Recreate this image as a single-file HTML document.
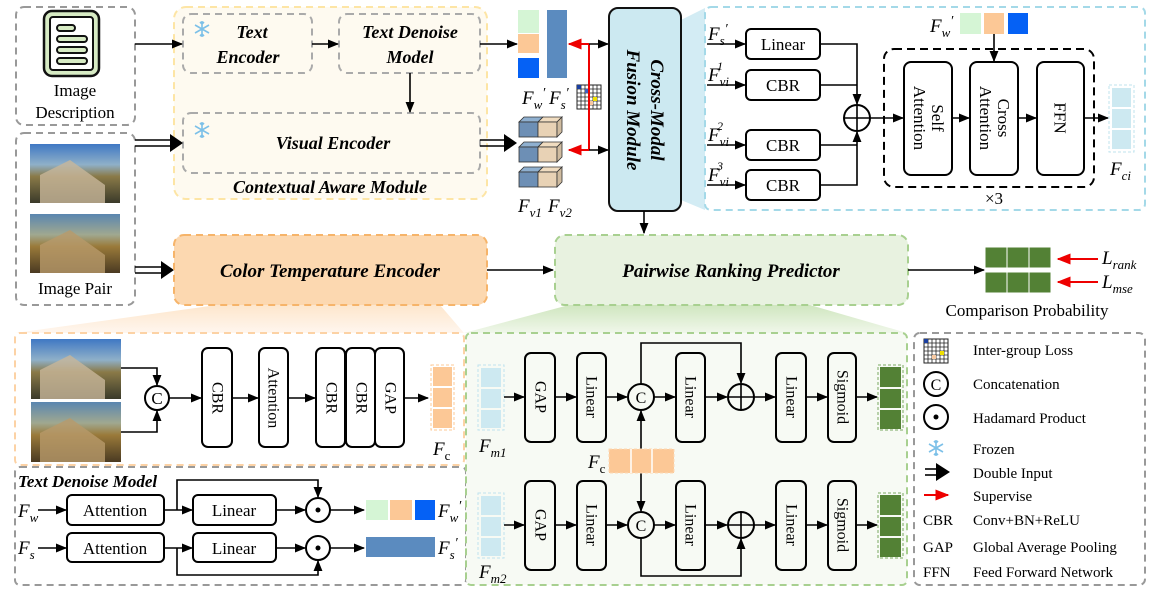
<!DOCTYPE html>
<html><head><meta charset="utf-8"><style>
html,body{margin:0;padding:0;background:#fff;}
svg{display:block;font-family:"Liberation Serif",serif;}
.bi{font-weight:bold;font-style:italic;}
.it{font-style:italic;}
</style></head><body>
<svg width="1151" height="595" viewBox="0 0 1151 595" xmlns="http://www.w3.org/2000/svg">
<defs>
<marker id="a" viewBox="0 0 10 10" refX="9" refY="5" markerWidth="7" markerHeight="7" orient="auto"><path d="M0,1 L10,5 L0,9 z" fill="#000"/></marker>
<marker id="r" viewBox="0 0 10 10" refX="9" refY="5" markerWidth="7" markerHeight="7" orient="auto"><path d="M0,1 L10,5 L0,9 z" fill="#e00"/></marker>
<linearGradient id="ph1" x1="0" y1="0" x2="0" y2="1"><stop offset="0" stop-color="#3f78c4"/><stop offset="0.35" stop-color="#8fb0c8"/><stop offset="0.55" stop-color="#8a7a48"/><stop offset="1" stop-color="#3a3a2a"/></linearGradient>
<linearGradient id="ph2" x1="0" y1="0" x2="0" y2="1"><stop offset="0" stop-color="#5a86b0"/><stop offset="0.35" stop-color="#a0a890"/><stop offset="0.55" stop-color="#9a7a3a"/><stop offset="1" stop-color="#4a3a22"/></linearGradient>
<linearGradient id="ow" x1="0" y1="0" x2="0" y2="1"><stop offset="0" stop-color="#fde6cc"/><stop offset="1" stop-color="#fff6ee"/></linearGradient>
<linearGradient id="gw" x1="0" y1="0" x2="0" y2="1"><stop offset="0" stop-color="#cfe6bf"/><stop offset="1" stop-color="#f0f7ea"/></linearGradient>
<g id="snow" stroke="#7cc0e8" stroke-width="1.6" fill="none"><path d="M0,-8 V8 M-7,-4 L7,4 M-7,4 L7,-4 M-2,-7 L0,-5 L2,-7 M-2,7 L0,5 L2,7"/></g>
</defs>

<!-- wedges -->
<polygon points="217,305 440,305 464,333 15,333" fill="url(#ow)"/>
<polygon points="569,305 810,305 907,333 464,333" fill="url(#gw)"/>
<polygon points="681,20 705,8 705,210 681,200" fill="#d3ecf4"/>

<!-- Image description -->
<rect x="16" y="7" width="119" height="118" rx="8" fill="none" stroke="#999" stroke-width="2" stroke-dasharray="7,5"/>
<rect x="44" y="11" width="55" height="65" rx="8" fill="#d7ebc4" stroke="#111" stroke-width="2.5"/>
<rect x="50" y="17" width="43" height="53" rx="3" fill="#fff" stroke="#111" stroke-width="2"/>
<g fill="#d7ebc4" stroke="#111" stroke-width="2"><rect x="57" y="25" width="18" height="6" rx="3"/><rect x="57" y="36" width="30" height="6" rx="3"/><rect x="57" y="47" width="30" height="6" rx="3"/><rect x="57" y="58" width="30" height="6" rx="3"/></g>
<text x="75" y="96" font-size="17" text-anchor="middle">Image</text>
<text x="75" y="118" font-size="17" text-anchor="middle">Description</text>

<!-- Image pair -->
<rect x="16" y="133" width="119" height="172" rx="8" fill="none" stroke="#999" stroke-width="2" stroke-dasharray="7,5"/>
<rect x="30" y="144" width="90" height="59" fill="url(#ph1)"/>
<polygon points="40,175 70,160 105,185 105,203 40,203" fill="#c8b79a" opacity="0.8"/>
<rect x="30" y="214" width="90" height="59" fill="url(#ph2)"/>
<polygon points="40,245 70,230 105,255 105,273 40,273" fill="#b89a6a" opacity="0.8"/>
<text x="75" y="294" font-size="17" text-anchor="middle">Image Pair</text>

<!-- Contextual aware -->
<rect x="174" y="7" width="313" height="192" rx="12" fill="#fefaf0" stroke="#fde5a5" stroke-width="2" stroke-dasharray="7,5"/>
<rect x="183" y="14" width="129" height="59" rx="8" fill="none" stroke="#aaa" stroke-width="2" stroke-dasharray="7,5"/>
<use href="#snow" x="202" y="29"/>
<text x="252" y="38" font-size="18" text-anchor="middle" class="bi">Text</text>
<text x="248" y="63" font-size="18" text-anchor="middle" class="bi">Encoder</text>
<rect x="339" y="14" width="141" height="59" rx="8" fill="none" stroke="#aaa" stroke-width="2" stroke-dasharray="7,5"/>
<text x="410" y="38" font-size="18" text-anchor="middle" class="bi">Text Denoise</text>
<text x="410" y="63" font-size="18" text-anchor="middle" class="bi">Model</text>
<rect x="183" y="113" width="297" height="60" rx="8" fill="none" stroke="#aaa" stroke-width="2" stroke-dasharray="7,5"/>
<use href="#snow" x="202" y="130"/>
<text x="333" y="149" font-size="18" text-anchor="middle" class="bi">Visual Encoder</text>
<text x="330" y="193" font-size="18" text-anchor="middle" class="bi">Contextual Aware Module</text>
<g stroke="#000" stroke-width="1.6" fill="none">
<line x1="135" y1="44" x2="182" y2="44" marker-end="url(#a)"/>
<line x1="312" y1="44" x2="338" y2="44" marker-end="url(#a)"/>
<line x1="410" y1="73" x2="410" y2="112" marker-end="url(#a)"/>
<line x1="480" y1="44" x2="517" y2="44" marker-end="url(#a)"/>
</g>
<!-- double arrows -->
<g stroke="#000" stroke-width="1.6"><line x1="135" y1="140" x2="172" y2="140"/><line x1="135" y1="146" x2="172" y2="146"/>
<line x1="480" y1="140" x2="506" y2="140"/><line x1="480" y1="146" x2="506" y2="146"/>
<line x1="135" y1="267" x2="162" y2="267"/><line x1="135" y1="273" x2="162" y2="273"/></g>
<polygon points="170,134 183,143 170,152" fill="#000"/>
<polygon points="504,134 517,143 504,152" fill="#000"/>
<polygon points="161,261 174,270 161,279" fill="#000"/>

<!-- Fw' Fs' -->
<rect x="518" y="10" width="21" height="23" fill="#d5f5d5"/>
<rect x="518" y="34" width="21" height="19" fill="#fcc896"/>
<rect x="518" y="58" width="21" height="20" fill="#0561f5"/>
<rect x="547" y="10" width="20" height="68" fill="#5b8bbf"/>
<text x="522" y="104" font-size="19" class="it">F<tspan font-size="13" dy="5">w</tspan><tspan dy="-12" font-size="14">′</tspan></text>
<text x="549" y="104" font-size="19" class="it">F<tspan font-size="13" dy="5">s</tspan><tspan dy="-12" font-size="14">′</tspan></text>
<!-- grid icon -->
<g>
<rect x="577" y="85" width="24" height="24" fill="#fff" stroke="#222" stroke-width="1"/>
<path d="M581,85V109M585,85V109M589,85V109M593,85V109M597,85V109M577,89H601M577,93H601M577,97H601M577,101H601M577,105H601" stroke="#222" stroke-width="0.8"/>
<rect x="577" y="85" width="4" height="4" fill="#1a3fa0"/><rect x="585" y="89" width="4" height="4" fill="#4060c0"/><rect x="593" y="97" width="4" height="4" fill="#f0e000"/><rect x="589" y="101" width="4" height="4" fill="#f8c8a0"/>
</g>
<!-- red supervise -->
<line x1="589" y1="44" x2="589" y2="150" stroke="#e00" stroke-width="2"/>
<line x1="589" y1="44" x2="569" y2="44" stroke="#e00" stroke-width="2" marker-end="url(#r)"/>
<line x1="589" y1="150" x2="569" y2="150" stroke="#e00" stroke-width="2" marker-end="url(#r)"/>
<line x1="589" y1="44" x2="608" y2="44" stroke="#000" stroke-width="1.6" marker-end="url(#a)"/>
<line x1="589" y1="150" x2="608" y2="150" stroke="#000" stroke-width="1.6" marker-end="url(#a)"/>
<!-- cubes -->
<g stroke="#333" stroke-width="0.8">
<g id="cr"><polygon points="519,122 538,122 543,117 524,117" fill="#8fb0d0"/><rect x="519" y="122" width="19" height="15" fill="#6d8fb5"/>
<polygon points="538,122 557,122 562,117 543,117" fill="#f0dcc0"/><rect x="538" y="122" width="19" height="15" fill="#e8d2b5"/><polygon points="557,122 562,117 562,132 557,137" fill="#d0bca0"/></g>
<use href="#cr" y="25"/><use href="#cr" y="50"/>
</g>
<text x="518" y="212" font-size="19" class="it">F<tspan font-size="13" dy="5">v1</tspan></text>
<text x="548" y="212" font-size="19" class="it">F<tspan font-size="13" dy="5">v2</tspan></text>

<!-- Cross modal -->
<rect x="609" y="8" width="72" height="203" rx="9" fill="#cce9f1" stroke="#111" stroke-width="2"/>
<text transform="translate(645,110) rotate(90)" font-size="19" text-anchor="middle" class="bi"><tspan x="0" y="-6">Cross-Modal</tspan><tspan x="0" y="18">Fusion Module</tspan></text>
<line x1="644" y1="211" x2="644" y2="233" stroke="#000" stroke-width="1.6" marker-end="url(#a)"/>

<!-- right fusion panel -->
<rect x="705" y="7" width="440" height="203" rx="6" fill="#fff" stroke="#a4d9e8" stroke-width="2" stroke-dasharray="7,5"/>
<text x="708" y="40" font-size="19" class="it">F<tspan font-size="13" dy="5">s</tspan><tspan dy="-12" font-size="14">′</tspan></text>
<text x="708" y="81" font-size="19" class="it">F<tspan font-size="13" dy="5">vi</tspan><tspan dy="-16" dx="-12" font-size="12">1</tspan></text>
<text x="708" y="141" font-size="19" class="it">F<tspan font-size="13" dy="5">vi</tspan><tspan dy="-16" dx="-12" font-size="12">2</tspan></text>
<text x="708" y="181" font-size="19" class="it">F<tspan font-size="13" dy="5">vi</tspan><tspan dy="-16" dx="-12" font-size="12">3</tspan></text>
<g stroke="#000" stroke-width="1.6" fill="none">
<line x1="707" y1="44" x2="745" y2="44" marker-end="url(#a)"/>
<line x1="707" y1="85" x2="745" y2="85" marker-end="url(#a)"/>
<line x1="707" y1="145" x2="745" y2="145" marker-end="url(#a)"/>
<line x1="707" y1="185" x2="745" y2="185" marker-end="url(#a)"/>
<rect x="746" y="29" width="74" height="30" rx="5" stroke-width="2"/>
<rect x="746" y="70" width="74" height="30" rx="5" stroke-width="2"/>
<rect x="746" y="130" width="74" height="30" rx="5" stroke-width="2"/>
<rect x="746" y="170" width="74" height="30" rx="5" stroke-width="2"/>
<polyline points="820,44 857,44 857,104" marker-end="url(#a)"/>
<line x1="820" y1="85" x2="857" y2="85"/>
<line x1="820" y1="145" x2="857" y2="145"/>
<polyline points="820,185 857,185 857,132" marker-end="url(#a)"/>
<circle cx="857" cy="118" r="13" stroke-width="2"/>
<path d="M844,118H870M857,105V131" stroke-width="1.6"/>
<line x1="870" y1="118" x2="903" y2="118" marker-end="url(#a)"/>
<rect x="884" y="49" width="210" height="138" rx="10" stroke-width="2" stroke-dasharray="8,5"/>
<rect x="904" y="62" width="48" height="113" rx="7" stroke-width="2"/>
<rect x="970" y="62" width="48" height="113" rx="7" stroke-width="2"/>
<rect x="1037" y="62" width="47" height="113" rx="7" stroke-width="2"/>
<line x1="952" y1="118" x2="969" y2="118" marker-end="url(#a)"/>
<line x1="1018" y1="118" x2="1036" y2="118" marker-end="url(#a)"/>
<line x1="1084" y1="118" x2="1108" y2="118" marker-end="url(#a)"/>
<line x1="994" y1="34" x2="994" y2="61" marker-end="url(#a)"/>
</g>
<text x="783" y="50" font-size="17" text-anchor="middle">Linear</text>
<text x="783" y="91" font-size="17" text-anchor="middle">CBR</text>
<text x="783" y="151" font-size="17" text-anchor="middle">CBR</text>
<text x="783" y="191" font-size="17" text-anchor="middle">CBR</text>
<text transform="translate(928,118) rotate(90)" font-size="17" text-anchor="middle"><tspan x="0" y="-4">Self</tspan><tspan x="0" y="14">Attention</tspan></text>
<text transform="translate(994,118) rotate(90)" font-size="17" text-anchor="middle"><tspan x="0" y="-4">Cross</tspan><tspan x="0" y="14">Attention</tspan></text>
<text transform="translate(1060,118) rotate(90)" font-size="17" text-anchor="middle" dominant-baseline="central">FFN</text>
<text x="994" y="204" font-size="17" text-anchor="middle">×3</text>
<text x="930" y="32" font-size="19" class="it">F<tspan font-size="13" dy="5">w</tspan><tspan dy="-12" font-size="14">′</tspan></text>
<rect x="960" y="13" width="21" height="21" fill="#d5f5d5"/>
<rect x="984" y="13" width="20" height="21" fill="#fcc896"/>
<rect x="1008" y="13" width="20" height="21" fill="#0561f5"/>
<rect x="1109" y="85" width="25" height="67" fill="none" stroke="#bfe3ee" stroke-dasharray="3,2"/>
<rect x="1112" y="88" width="19" height="19" fill="#cde9f1"/><rect x="1112" y="109" width="19" height="19" fill="#cde9f1"/><rect x="1112" y="130" width="19" height="19" fill="#cde9f1"/>
<text x="1110" y="175" font-size="19" class="it">F<tspan font-size="13" dy="5">ci</tspan></text>

<!-- middle row -->
<rect x="174" y="235" width="313" height="70" rx="10" fill="#fcd8b0" stroke="#f6b46a" stroke-width="2" stroke-dasharray="7,5"/>
<text x="330" y="277" font-size="19" text-anchor="middle" class="bi">Color Temperature Encoder</text>
<line x1="487" y1="270" x2="553" y2="270" stroke="#000" stroke-width="1.6" marker-end="url(#a)"/>
<rect x="555" y="235" width="353" height="70" rx="10" fill="#e8f2e0" stroke="#a8d090" stroke-width="2" stroke-dasharray="7,5"/>
<text x="731" y="277" font-size="19" text-anchor="middle" class="bi">Pairwise Ranking Predictor</text>
<line x1="908" y1="270" x2="984" y2="270" stroke="#000" stroke-width="1.6" marker-end="url(#a)"/>
<g fill="#538135" stroke="#fff" stroke-width="1">
<rect x="985" y="247" width="22" height="21"/><rect x="1007" y="247" width="22" height="21"/><rect x="1029" y="247" width="22" height="21"/>
<rect x="985" y="272" width="22" height="21"/><rect x="1007" y="272" width="22" height="21"/><rect x="1029" y="272" width="22" height="21"/>
</g>
<line x1="1098" y1="259" x2="1058" y2="259" stroke="#e00" stroke-width="2" marker-end="url(#r)"/>
<line x1="1098" y1="282" x2="1058" y2="282" stroke="#e00" stroke-width="2" marker-end="url(#r)"/>
<text x="1102" y="264" font-size="19" class="it">L<tspan font-size="13" dy="5">rank</tspan></text>
<text x="1102" y="288" font-size="19" class="it">L<tspan font-size="13" dy="5">mse</tspan></text>
<text x="1027" y="316" font-size="17" text-anchor="middle">Comparison Probability</text>

<!-- bottom-left orange panel -->
<rect x="15" y="333" width="449" height="132" rx="5" fill="#fff" stroke="#fcd2a5" stroke-width="2" stroke-dasharray="7,5"/>
<rect x="31" y="339" width="90" height="60" fill="url(#ph1)"/>
<polygon points="40,370 70,355 105,380 105,399 40,399" fill="#c8b79a" opacity="0.8"/>
<rect x="31" y="402" width="90" height="60" fill="url(#ph2)"/>
<polygon points="40,433 70,418 105,443 105,462 40,462" fill="#b89a6a" opacity="0.8"/>
<g stroke="#000" stroke-width="1.6" fill="none">
<polyline points="121,368 157,368 157,385" marker-end="url(#a)"/>
<polyline points="121,432 157,432 157,411" marker-end="url(#a)"/>
<circle cx="157" cy="398" r="12" stroke-width="2"/>
<line x1="169" y1="398" x2="201" y2="398" marker-end="url(#a)"/>
<rect x="202" y="348" width="30" height="99" rx="6" stroke-width="2"/>
<line x1="232" y1="398" x2="258" y2="398" marker-end="url(#a)"/>
<rect x="259" y="348" width="29" height="99" rx="6" stroke-width="2"/>
<line x1="288" y1="398" x2="315" y2="398" marker-end="url(#a)"/>
<rect x="316" y="348" width="29" height="99" rx="6" stroke-width="2"/>
<rect x="346" y="348" width="29" height="99" rx="6" stroke-width="2"/>
<rect x="375" y="348" width="29" height="99" rx="6" stroke-width="2"/>
<line x1="404" y1="398" x2="428" y2="398" marker-end="url(#a)"/>
</g>
<text x="157" y="404" font-size="17" text-anchor="middle">C</text>
<text transform="translate(217,398) rotate(90)" font-size="16" text-anchor="middle" dominant-baseline="central">CBR</text>
<text transform="translate(273,398) rotate(90)" font-size="16" text-anchor="middle" dominant-baseline="central">Attention</text>
<text transform="translate(331,398) rotate(90)" font-size="16" text-anchor="middle" dominant-baseline="central">CBR</text>
<text transform="translate(361,398) rotate(90)" font-size="16" text-anchor="middle" dominant-baseline="central">CBR</text>
<text transform="translate(390,398) rotate(90)" font-size="16" text-anchor="middle" dominant-baseline="central">GAP</text>
<rect x="431" y="365" width="23" height="65" fill="none" stroke="#fcc896" stroke-dasharray="3,2"/>
<rect x="433" y="367" width="19" height="19" fill="#fcc896"/><rect x="433" y="388" width="19" height="19" fill="#fcc896"/><rect x="433" y="409" width="19" height="19" fill="#fcc896"/>
<text x="433" y="455" font-size="19" class="it">F<tspan font-size="13" dy="5" font-style="normal">c</tspan></text>

<!-- text denoise panel -->
<rect x="15" y="467" width="451" height="118" rx="5" fill="#fff" stroke="#999" stroke-width="2" stroke-dasharray="7,5"/>
<text x="18" y="487" font-size="17" class="bi">Text Denoise Model</text>
<text x="18" y="517" font-size="19" class="it">F<tspan font-size="13" dy="5">w</tspan></text>
<text x="18" y="554" font-size="19" class="it">F<tspan font-size="13" dy="5">s</tspan></text>
<g stroke="#000" stroke-width="1.6" fill="none">
<line x1="38" y1="510" x2="66" y2="510" marker-end="url(#a)"/>
<line x1="38" y1="548" x2="66" y2="548" marker-end="url(#a)"/>
<rect x="67" y="495" width="97" height="30" rx="5" stroke-width="2"/>
<rect x="67" y="533" width="97" height="29" rx="5" stroke-width="2"/>
<line x1="164" y1="510" x2="192" y2="510" marker-end="url(#a)"/>
<line x1="164" y1="548" x2="192" y2="548" marker-end="url(#a)"/>
<polyline points="177,510 177,480 318,480 318,497" marker-end="url(#a)"/>
<polyline points="177,548 177,575 318,575 318,561" marker-end="url(#a)"/>
<rect x="193" y="495" width="83" height="30" rx="5" stroke-width="2"/>
<rect x="193" y="533" width="83" height="29" rx="5" stroke-width="2"/>
<line x1="276" y1="510" x2="305" y2="510" marker-end="url(#a)"/>
<line x1="276" y1="548" x2="305" y2="548" marker-end="url(#a)"/>
<circle cx="318" cy="510" r="12" stroke-width="2"/>
<circle cx="318" cy="548" r="12" stroke-width="2"/>
<line x1="330" y1="510" x2="364" y2="510" marker-end="url(#a)"/>
<line x1="330" y1="548" x2="364" y2="548" marker-end="url(#a)"/>
</g>
<circle cx="318" cy="510" r="2.5" fill="#000"/><circle cx="318" cy="548" r="2.5" fill="#000"/>
<text x="115" y="516" font-size="17" text-anchor="middle">Attention</text>
<text x="115" y="554" font-size="17" text-anchor="middle">Attention</text>
<text x="234" y="516" font-size="17" text-anchor="middle">Linear</text>
<text x="234" y="554" font-size="17" text-anchor="middle">Linear</text>
<rect x="366" y="500" width="22" height="20" fill="#d5f5d5"/>
<rect x="390" y="500" width="22" height="20" fill="#fcc896"/>
<rect x="415" y="500" width="20" height="20" fill="#0561f5"/>
<rect x="366" y="537" width="69" height="20" fill="#5b8bbf"/>
<text x="438" y="517" font-size="19" class="it">F<tspan font-size="13" dy="5">w</tspan><tspan dy="-12" font-size="14">′</tspan></text>
<text x="438" y="554" font-size="19" class="it">F<tspan font-size="13" dy="5">s</tspan><tspan dy="-12" font-size="14">′</tspan></text>

<!-- green predictor panel -->
<rect x="466" y="333" width="441" height="252" rx="5" fill="#f7faf4" stroke="#a8d090" stroke-width="2" stroke-dasharray="7,5"/>
<g id="fm">
<rect x="478" y="365" width="26" height="65" fill="none" stroke="#bfe3ee" stroke-dasharray="3,2"/>
<rect x="481" y="368" width="20" height="19" fill="#cde9f1"/><rect x="481" y="389" width="20" height="19" fill="#cde9f1"/><rect x="481" y="410" width="20" height="18" fill="#cde9f1"/>
</g>
<use href="#fm" y="128"/>
<text x="479" y="452" font-size="19" class="it">F<tspan font-size="13" dy="5">m1</tspan></text>
<text x="479" y="578" font-size="19" class="it">F<tspan font-size="13" dy="5">m2</tspan></text>
<g id="row" stroke="#000" stroke-width="1.6" fill="none">
<line x1="504" y1="397" x2="524" y2="397" marker-end="url(#a)"/>
<rect x="525" y="353" width="30" height="89" rx="6" stroke-width="2"/>
<line x1="555" y1="397" x2="576" y2="397" marker-end="url(#a)"/>
<rect x="577" y="353" width="29" height="89" rx="6" stroke-width="2"/>
<line x1="606" y1="397" x2="627" y2="397" marker-end="url(#a)"/>
<circle cx="641" cy="397" r="13" stroke-width="2"/>
<line x1="654" y1="397" x2="675" y2="397" marker-end="url(#a)"/>
<rect x="676" y="353" width="29" height="89" rx="6" stroke-width="2"/>
<line x1="705" y1="397" x2="727" y2="397" marker-end="url(#a)"/>
<circle cx="741" cy="397" r="13" stroke-width="2"/>
<path d="M728,397H754M741,384V410" />
<line x1="754" y1="397" x2="775" y2="397" marker-end="url(#a)"/>
<rect x="776" y="353" width="30" height="89" rx="6" stroke-width="2"/>
<line x1="806" y1="397" x2="827" y2="397" marker-end="url(#a)"/>
<rect x="828" y="353" width="28" height="89" rx="6" stroke-width="2"/>
<line x1="856" y1="397" x2="877" y2="397" marker-end="url(#a)"/>
</g>
<use href="#row" y="128"/>
<g fill="none" stroke="#000" stroke-width="1.6">
<polyline points="641,384 641,343 741,343 741,383" marker-end="url(#a)"/>
<polyline points="641,538 641,576 741,576 741,539" marker-end="url(#a)"/>
<line x1="641" y1="449" x2="641" y2="411" marker-end="url(#a)"/>
<line x1="641" y1="473" x2="641" y2="511" marker-end="url(#a)"/>
</g>
<g font-size="16" text-anchor="middle">
<text x="641" y="403">C</text><text x="641" y="531">C</text>
<text transform="translate(540,397) rotate(90)" dominant-baseline="central">GAP</text>
<text transform="translate(591,397) rotate(90)" dominant-baseline="central">Linear</text>
<text transform="translate(690,397) rotate(90)" dominant-baseline="central">Linear</text>
<text transform="translate(791,397) rotate(90)" dominant-baseline="central">Linear</text>
<text transform="translate(842,397) rotate(90)" dominant-baseline="central">Sigmoid</text>
<text transform="translate(540,525) rotate(90)" dominant-baseline="central">GAP</text>
<text transform="translate(591,525) rotate(90)" dominant-baseline="central">Linear</text>
<text transform="translate(690,525) rotate(90)" dominant-baseline="central">Linear</text>
<text transform="translate(791,525) rotate(90)" dominant-baseline="central">Linear</text>
<text transform="translate(842,525) rotate(90)" dominant-baseline="central">Sigmoid</text>
</g>
<g id="go">
<rect x="878" y="365" width="25" height="65" fill="none" stroke="#7aa860" stroke-dasharray="3,2"/>
<rect x="880" y="367" width="21" height="20" fill="#538135"/><rect x="880" y="389" width="21" height="19" fill="#538135"/><rect x="880" y="410" width="21" height="19" fill="#538135"/>
</g>
<use href="#go" y="128"/>
<rect x="609" y="449" width="65" height="24" fill="#fcc896" stroke="#fdd9b5" stroke-dasharray="3,2"/>
<path d="M631,449V473M652,449V473" stroke="#fff" stroke-width="1.5"/>
<text x="588" y="468" font-size="19" class="it">F<tspan font-size="13" dy="5" font-style="normal">c</tspan></text>

<!-- legend -->
<rect x="914" y="333" width="231" height="252" rx="6" fill="#fff" stroke="#999" stroke-width="2" stroke-dasharray="7,5"/>
<g>
<rect x="924" y="339" width="24" height="24" fill="#fff" stroke="#222" stroke-width="1"/>
<path d="M928,339V363M932,339V363M936,339V363M940,339V363M944,339V363M924,343H948M924,347H948M924,351H948M924,355H948M924,359H948" stroke="#222" stroke-width="0.8"/>
<rect x="924" y="339" width="4" height="4" fill="#1a3fa0"/><rect x="940" y="351" width="4" height="4" fill="#f0e000"/><rect x="932" y="355" width="4" height="4" fill="#f8c8a0"/>
</g>
<circle cx="936" cy="384" r="12" fill="none" stroke="#000" stroke-width="2"/><text x="936" y="390" font-size="16" text-anchor="middle">C</text>
<circle cx="936" cy="417" r="12" fill="none" stroke="#000" stroke-width="2"/><circle cx="936" cy="417" r="2.5"/>
<use href="#snow" x="936" y="448"/>
<line x1="925" y1="469" x2="938" y2="469" stroke="#000" stroke-width="1.6"/><line x1="925" y1="475" x2="938" y2="475" stroke="#000" stroke-width="1.6"/>
<polygon points="936,463 950,472 936,481" fill="#000"/>
<line x1="924" y1="495" x2="948" y2="495" stroke="#e00" stroke-width="2" marker-end="url(#r)"/>
<g font-size="15">
<text x="973" y="355">Inter-group Loss</text>
<text x="973" y="389">Concatenation</text>
<text x="973" y="423">Hadamard Product</text>
<text x="973" y="454">Frozen</text>
<text x="973" y="478">Double Input</text>
<text x="973" y="501">Supervise</text>
<text x="923" y="525">CBR</text><text x="973" y="525">Conv+BN+ReLU</text>
<text x="923" y="552">GAP</text><text x="973" y="552">Global Average Pooling</text>
<text x="923" y="577">FFN</text><text x="973" y="577">Feed Forward Network</text>
</g>
</svg>
</body></html>
